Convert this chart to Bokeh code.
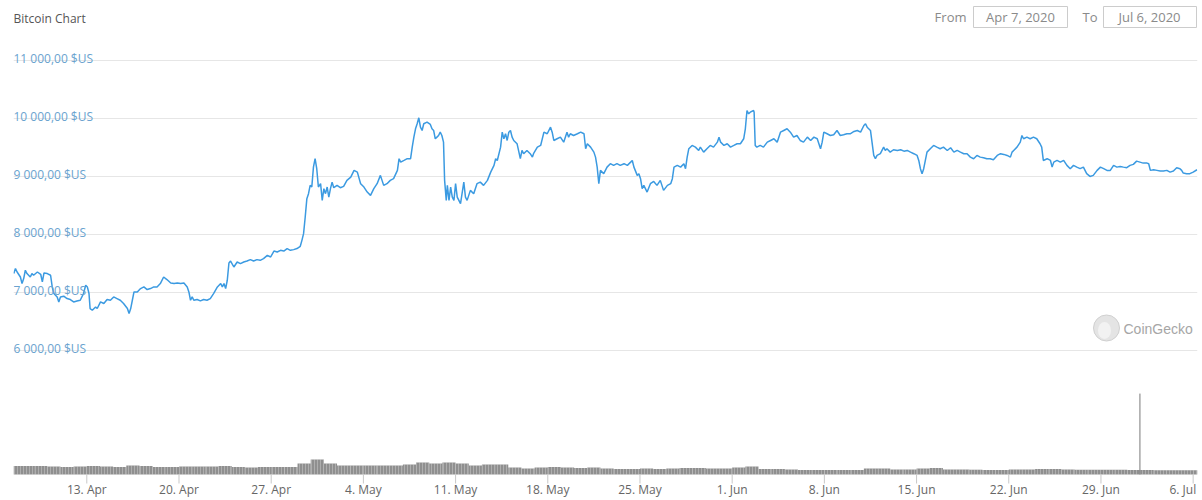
import pandas as pd
from bokeh.plotting import figure
from bokeh.models import Range1d, FixedTicker, Grid
from bokeh.core.properties import value
from bokeh.embed import file_html
from bokeh.resources import INLINE

# ---------------- data ----------------
TITLE = "Bitcoin Chart"
DATE_FROM = "Apr 7, 2020"
DATE_TO = "Jul 6, 2020"
BRAND = "CoinGecko"

PRICE_TIMES = [
    "2020-04-07 11:00", "2020-04-07 14:00", "2020-04-07 17:00", "2020-04-07 23:00",
    "2020-04-08 02:00", "2020-04-08 05:00", "2020-04-08 08:00", "2020-04-08 11:00",
    "2020-04-08 17:00", "2020-04-08 20:00", "2020-04-08 23:00", "2020-04-09 06:00",
    "2020-04-09 12:00", "2020-04-09 15:00", "2020-04-09 18:00", "2020-04-10 00:00",
    "2020-04-10 06:00", "2020-04-10 09:00", "2020-04-10 12:00", "2020-04-10 18:00",
    "2020-04-10 21:00", "2020-04-11 00:00", "2020-04-11 06:00", "2020-04-11 12:00",
    "2020-04-11 18:00", "2020-04-12 00:00", "2020-04-12 06:00", "2020-04-12 12:00",
    "2020-04-12 18:00", "2020-04-12 22:00", "2020-04-13 01:00", "2020-04-13 04:00",
    "2020-04-13 06:00", "2020-04-13 10:00", "2020-04-13 16:00", "2020-04-13 19:00",
    "2020-04-14 01:00", "2020-04-14 07:00", "2020-04-14 13:00", "2020-04-14 19:00",
    "2020-04-15 01:00", "2020-04-15 07:00", "2020-04-15 13:00", "2020-04-15 19:00",
    "2020-04-16 02:00", "2020-04-16 05:00", "2020-04-16 08:00", "2020-04-16 11:00",
    "2020-04-16 14:00", "2020-04-16 20:00", "2020-04-17 02:00", "2020-04-17 08:00",
    "2020-04-17 14:00", "2020-04-17 20:00", "2020-04-18 02:00", "2020-04-18 08:00",
    "2020-04-18 14:00", "2020-04-18 20:00", "2020-04-19 02:00", "2020-04-19 09:00",
    "2020-04-19 15:00", "2020-04-19 21:00", "2020-04-20 03:00", "2020-04-20 09:00",
    "2020-04-20 15:00", "2020-04-20 18:00", "2020-04-20 21:00", "2020-04-21 00:00",
    "2020-04-21 03:00", "2020-04-21 09:00", "2020-04-21 15:00", "2020-04-21 21:00",
    "2020-04-22 03:00", "2020-04-22 09:00", "2020-04-22 15:00", "2020-04-22 22:00",
    "2020-04-23 04:00", "2020-04-23 07:00", "2020-04-23 10:00", "2020-04-23 13:00",
    "2020-04-23 16:00", "2020-04-23 19:00", "2020-04-23 22:00", "2020-04-24 04:00",
    "2020-04-24 10:00", "2020-04-24 16:00", "2020-04-24 22:00", "2020-04-25 04:00",
    "2020-04-25 10:00", "2020-04-25 16:00", "2020-04-25 22:00", "2020-04-26 04:00",
    "2020-04-26 10:00", "2020-04-26 17:00", "2020-04-26 23:00", "2020-04-27 05:00",
    "2020-04-27 11:00", "2020-04-27 17:00", "2020-04-27 23:00", "2020-04-28 05:00",
    "2020-04-28 11:00", "2020-04-28 17:00", "2020-04-28 23:00", "2020-04-29 05:00",
    "2020-04-29 08:00", "2020-04-29 11:00", "2020-04-29 14:00", "2020-04-29 17:00",
    "2020-04-29 20:00", "2020-04-29 23:00", "2020-04-30 02:00", "2020-04-30 05:00",
    "2020-04-30 08:00", "2020-04-30 11:00", "2020-04-30 14:00", "2020-04-30 18:00",
    "2020-04-30 21:00", "2020-05-01 00:00", "2020-05-01 03:00", "2020-05-01 06:00",
    "2020-05-01 09:00", "2020-05-01 12:00", "2020-05-01 15:00", "2020-05-01 18:00",
    "2020-05-02 00:00", "2020-05-02 06:00", "2020-05-02 12:00", "2020-05-02 18:00",
    "2020-05-03 01:00", "2020-05-03 07:00", "2020-05-03 13:00", "2020-05-03 19:00",
    "2020-05-04 01:00", "2020-05-04 07:00", "2020-05-04 13:00", "2020-05-04 19:00",
    "2020-05-05 01:00", "2020-05-05 07:00", "2020-05-05 13:00", "2020-05-05 19:00",
    "2020-05-06 01:00", "2020-05-06 07:00", "2020-05-06 14:00", "2020-05-06 17:00",
    "2020-05-06 20:00", "2020-05-07 02:00", "2020-05-07 08:00", "2020-05-07 14:00",
    "2020-05-07 17:00", "2020-05-07 20:00", "2020-05-07 23:00", "2020-05-08 02:00",
    "2020-05-08 05:00", "2020-05-08 08:00", "2020-05-08 11:00", "2020-05-08 14:00",
    "2020-05-08 20:00", "2020-05-09 02:00", "2020-05-09 05:00", "2020-05-09 08:00",
    "2020-05-09 11:00", "2020-05-09 14:00", "2020-05-09 17:00", "2020-05-09 20:00",
    "2020-05-09 23:00", "2020-05-10 02:00", "2020-05-10 04:00", "2020-05-10 07:00",
    "2020-05-10 09:00", "2020-05-10 12:00", "2020-05-10 15:00", "2020-05-10 18:00",
    "2020-05-10 21:00", "2020-05-11 00:00", "2020-05-11 03:00", "2020-05-11 09:00",
    "2020-05-11 15:00", "2020-05-11 18:00", "2020-05-11 21:00", "2020-05-12 00:00",
    "2020-05-12 03:00", "2020-05-12 09:00", "2020-05-12 15:00", "2020-05-12 21:00",
    "2020-05-13 03:00", "2020-05-13 10:00", "2020-05-13 16:00", "2020-05-13 22:00",
    "2020-05-14 01:00", "2020-05-14 04:00", "2020-05-14 10:00", "2020-05-14 13:00",
    "2020-05-14 16:00", "2020-05-14 19:00", "2020-05-14 22:00", "2020-05-15 01:00",
    "2020-05-15 04:00", "2020-05-15 07:00", "2020-05-15 10:00", "2020-05-15 16:00",
    "2020-05-15 22:00", "2020-05-16 01:00", "2020-05-16 04:00", "2020-05-16 10:00",
    "2020-05-16 16:00", "2020-05-16 20:00", "2020-05-16 22:00", "2020-05-17 05:00",
    "2020-05-17 11:00", "2020-05-17 17:00", "2020-05-17 23:00", "2020-05-18 05:00",
    "2020-05-18 08:00", "2020-05-18 11:00", "2020-05-18 17:00", "2020-05-18 23:00",
    "2020-05-19 05:00", "2020-05-19 11:00", "2020-05-19 14:00", "2020-05-19 17:00",
    "2020-05-19 23:00", "2020-05-20 06:00", "2020-05-20 12:00", "2020-05-20 18:00",
    "2020-05-20 21:00", "2020-05-21 00:00", "2020-05-21 06:00", "2020-05-21 12:00",
    "2020-05-21 15:00", "2020-05-21 18:00", "2020-05-21 21:00", "2020-05-22 00:00",
    "2020-05-22 06:00", "2020-05-22 12:00", "2020-05-22 18:00", "2020-05-23 00:00",
    "2020-05-23 06:00", "2020-05-23 12:00", "2020-05-23 19:00", "2020-05-24 01:00",
    "2020-05-24 07:00", "2020-05-24 10:00", "2020-05-24 13:00", "2020-05-24 19:00",
    "2020-05-24 22:00", "2020-05-25 01:00", "2020-05-25 04:00", "2020-05-25 07:00",
    "2020-05-25 13:00", "2020-05-25 19:00", "2020-05-26 01:00", "2020-05-26 07:00",
    "2020-05-26 13:00", "2020-05-26 19:00", "2020-05-27 02:00", "2020-05-27 08:00",
    "2020-05-27 11:00", "2020-05-27 14:00", "2020-05-27 20:00", "2020-05-28 02:00",
    "2020-05-28 08:00", "2020-05-28 11:00", "2020-05-28 14:00", "2020-05-28 17:00",
    "2020-05-28 23:00", "2020-05-29 05:00", "2020-05-29 11:00", "2020-05-29 14:00",
    "2020-05-29 20:00", "2020-05-30 02:00", "2020-05-30 08:00", "2020-05-30 14:00",
    "2020-05-30 21:00", "2020-05-31 00:00", "2020-05-31 03:00", "2020-05-31 09:00",
    "2020-05-31 15:00", "2020-05-31 21:00", "2020-06-01 03:00", "2020-06-01 09:00",
    "2020-06-01 15:00", "2020-06-01 21:00", "2020-06-02 00:00", "2020-06-02 03:00",
    "2020-06-02 06:00", "2020-06-02 09:00", "2020-06-02 15:00", "2020-06-02 16:00",
    "2020-06-02 18:00", "2020-06-02 21:00", "2020-06-03 03:00", "2020-06-03 09:00",
    "2020-06-03 16:00", "2020-06-03 22:00", "2020-06-04 04:00", "2020-06-04 10:00",
    "2020-06-04 16:00", "2020-06-04 22:00", "2020-06-05 04:00", "2020-06-05 10:00",
    "2020-06-05 16:00", "2020-06-05 22:00", "2020-06-06 04:00", "2020-06-06 10:00",
    "2020-06-06 17:00", "2020-06-06 23:00", "2020-06-07 05:00", "2020-06-07 11:00",
    "2020-06-07 17:00", "2020-06-07 20:00", "2020-06-07 23:00", "2020-06-08 05:00",
    "2020-06-08 11:00", "2020-06-08 17:00", "2020-06-08 23:00", "2020-06-09 05:00",
    "2020-06-09 11:00", "2020-06-09 17:00", "2020-06-09 23:00", "2020-06-10 06:00",
    "2020-06-10 12:00", "2020-06-10 18:00", "2020-06-11 00:00", "2020-06-11 03:00",
    "2020-06-11 06:00", "2020-06-11 12:00", "2020-06-11 18:00", "2020-06-11 21:00",
    "2020-06-12 00:00", "2020-06-12 06:00", "2020-06-12 12:00", "2020-06-12 15:00",
    "2020-06-12 18:00", "2020-06-13 00:00", "2020-06-13 06:00", "2020-06-13 13:00",
    "2020-06-13 19:00", "2020-06-14 01:00", "2020-06-14 07:00", "2020-06-14 13:00",
    "2020-06-14 19:00", "2020-06-15 01:00", "2020-06-15 04:00", "2020-06-15 07:00",
    "2020-06-15 10:00", "2020-06-15 13:00", "2020-06-15 16:00", "2020-06-15 19:00",
    "2020-06-16 01:00", "2020-06-16 07:00", "2020-06-16 13:00", "2020-06-16 19:00",
    "2020-06-17 01:00", "2020-06-17 08:00", "2020-06-17 14:00", "2020-06-17 20:00",
    "2020-06-18 02:00", "2020-06-18 08:00", "2020-06-18 14:00", "2020-06-18 20:00",
    "2020-06-19 02:00", "2020-06-19 08:00", "2020-06-19 14:00", "2020-06-19 20:00",
    "2020-06-20 02:00", "2020-06-20 08:00", "2020-06-20 14:00", "2020-06-20 20:00",
    "2020-06-21 03:00", "2020-06-21 09:00", "2020-06-21 15:00", "2020-06-21 21:00",
    "2020-06-22 03:00", "2020-06-22 06:00", "2020-06-22 09:00", "2020-06-22 15:00",
    "2020-06-22 21:00", "2020-06-23 00:00", "2020-06-23 03:00", "2020-06-23 09:00",
    "2020-06-23 15:00", "2020-06-23 21:00", "2020-06-24 03:00", "2020-06-24 09:00",
    "2020-06-24 12:00", "2020-06-24 15:00", "2020-06-24 22:00", "2020-06-25 04:00",
    "2020-06-25 07:00", "2020-06-25 10:00", "2020-06-25 16:00", "2020-06-25 22:00",
    "2020-06-26 04:00", "2020-06-26 10:00", "2020-06-26 16:00", "2020-06-26 22:00",
    "2020-06-27 04:00", "2020-06-27 10:00", "2020-06-27 16:00", "2020-06-27 22:00",
    "2020-06-28 04:00", "2020-06-28 10:00", "2020-06-28 17:00", "2020-06-28 23:00",
    "2020-06-29 05:00", "2020-06-29 11:00", "2020-06-29 17:00", "2020-06-29 23:00",
    "2020-06-30 05:00", "2020-06-30 11:00", "2020-06-30 17:00", "2020-06-30 23:00",
    "2020-07-01 05:00", "2020-07-01 11:00", "2020-07-01 17:00", "2020-07-01 23:00",
    "2020-07-02 05:00", "2020-07-02 12:00", "2020-07-02 15:00", "2020-07-02 18:00",
    "2020-07-03 00:00", "2020-07-03 06:00", "2020-07-03 12:00", "2020-07-03 18:00",
    "2020-07-04 00:00", "2020-07-04 06:00", "2020-07-04 12:00", "2020-07-04 18:00",
    "2020-07-05 00:00", "2020-07-05 03:00", "2020-07-05 06:00", "2020-07-05 12:00",
    "2020-07-05 18:00", "2020-07-06 00:00", "2020-07-06 07:00",
]

PRICE_USD = [
    7331, 7417, 7358, 7272,
    7159, 7245, 7388, 7331,
    7272, 7331, 7302, 7358,
    7319, 7187, 7341, 7331,
    7302, 7101, 6987, 6929,
    6843, 6929, 6941, 6901,
    6884, 6843, 6860, 6872,
    6987, 7130, 7101, 6987,
    6729, 6700, 6757, 6729,
    6843, 6815, 6884, 6872,
    6929, 6901, 6872, 6815,
    6729, 6643, 6729, 6872,
    7015, 7015, 7073, 7101,
    7056, 7073, 7101, 7101,
    7159, 7272, 7228, 7169,
    7159, 7169, 7159, 7169,
    7101, 7015, 6872, 6929,
    6872, 6884, 6860, 6884,
    6872, 6901, 6987, 7101,
    7159, 7101, 7159, 7073,
    7216, 7513, 7547, 7444,
    7530, 7503, 7530, 7547,
    7571, 7547, 7571, 7559,
    7589, 7645, 7616, 7719,
    7702, 7731, 7719, 7761,
    7731, 7743, 7761, 7800,
    7903, 8018, 8304, 8620,
    8706, 8849, 8820, 9163,
    9308, 9136, 8820, 8878,
    8591, 8792, 8706, 8820,
    8648, 8792, 8905, 8809,
    8849, 8809, 8832, 8935,
    8991, 9107, 9077, 8878,
    8820, 8734, 8677, 8792,
    8878, 9021, 8849, 8878,
    8935, 8964, 9107, 9308,
    9249, 9278, 9308, 9308,
    9507, 9679, 9823, 9909,
    10012, 9851, 9794, 9909,
    9937, 9897, 9823, 9794,
    9651, 9679, 9708, 9765,
    9708, 9593, 8935, 8591,
    8849, 8591, 8820, 8648,
    8591, 8878, 8648, 8534,
    8905, 8648, 8591, 8677,
    8763, 8706, 8878, 8905,
    8849, 8935, 9077, 9193,
    9308, 9278, 9507, 9765,
    9651, 9737, 9622, 9765,
    9794, 9679, 9622, 9566,
    9308, 9450, 9394, 9450,
    9394, 9335, 9394, 9507,
    9536, 9765, 9737, 9851,
    9765, 9622, 9651, 9679,
    9593, 9765, 9679, 9737,
    9708, 9737, 9765, 9737,
    9480, 9566, 9507, 9421,
    9335, 9163, 8878, 9107,
    9050, 9163, 9222, 9193,
    9222, 9193, 9222, 9193,
    9249, 9278, 9163, 9021,
    9050, 8964, 8792, 8849,
    8734, 8878, 8917, 8849,
    8935, 8763, 8849, 8878,
    8964, 9163, 9193, 9163,
    9222, 9136, 9335, 9480,
    9536, 9507, 9450, 9507,
    9421, 9480, 9536, 9507,
    9593, 9679, 9593, 9536,
    9566, 9507, 9536, 9566,
    9566, 9651, 9823, 10138,
    10081, 10109, 10138, 10109,
    9536, 9507, 9536, 9507,
    9593, 9622, 9651, 9593,
    9765, 9794, 9823, 9765,
    9679, 9708, 9622, 9593,
    9679, 9622, 9679, 9651,
    9480, 9593, 9765, 9737,
    9708, 9720, 9794, 9708,
    9720, 9737, 9737, 9777,
    9794, 9765, 9880, 9909,
    9851, 9794, 9364, 9308,
    9364, 9394, 9507, 9450,
    9480, 9421, 9462, 9450,
    9462, 9438, 9450, 9421,
    9394, 9364, 9278, 9136,
    9050, 9136, 9278, 9421,
    9480, 9536, 9507, 9480,
    9507, 9450, 9497, 9421,
    9450, 9421, 9394, 9394,
    9335, 9308, 9364, 9335,
    9325, 9308, 9308, 9290,
    9364, 9394, 9382, 9364,
    9335, 9421, 9450, 9507,
    9593, 9708, 9651, 9679,
    9651, 9679, 9651, 9566,
    9507, 9278, 9308, 9278,
    9163, 9249, 9278, 9249,
    9278, 9193, 9136, 9193,
    9163, 9136, 9163, 9050,
    9003, 9021, 9107, 9163,
    9136, 9107, 9107, 9193,
    9163, 9175, 9163, 9153,
    9193, 9210, 9266, 9249,
    9232, 9232, 9222, 9107,
    9119, 9107, 9095, 9095,
    9107, 9077, 9095, 9153,
    9136, 9107, 9060, 9050,
    9050, 9077, 9118,
]

# daily total volume, billions of USD (Apr 7 .. Jul 6)
VOLUME_START = "2020-04-07"
VOLUME_BUSD = [
    37.4, 37.4, 37.4, 35.2, 33.0, 35.2, 37.4, 35.2, 33.0, 39.6, 37.4, 33.0,
    33.0, 35.2, 35.2, 35.2, 37.4, 33.0, 30.8, 33.0, 33.0, 33.0, 48.4, 66.0,
    48.4, 39.6, 39.6, 39.6, 39.6, 39.6, 44.0, 52.8, 48.4, 52.8, 48.4, 39.6,
    44.0, 44.0, 30.8, 26.4, 30.8, 33.0, 30.8, 28.6, 30.8, 26.4, 24.2, 24.2,
    26.4, 24.2, 26.4, 28.6, 28.6, 26.4, 26.4,
    30.8, 35.2, 24.2, 24.2, 22.0, 19.8, 19.8, 19.8, 19.8, 19.8, 26.4, 26.4,
    22.0, 22.0, 26.4, 28.6, 22.0, 22.0, 21.1, 19.8, 19.8, 22.0, 22.0, 24.2,
    24.2, 22.0, 21.1, 21.1, 21.1, 21.1,
    19.8, 19.8, 18.9, 18.9, 18.9, 18.9,
]
SPIKE_TIME = "2020-07-01 23:00"
SPIKE_BUSD = 356.0

Y_TICKS = [6000, 7000, 8000, 9000, 10000, 11000]
X_TICK_DATES = ["2020-04-13", "2020-04-20", "2020-04-27", "2020-05-04", "2020-05-11",
                "2020-05-18", "2020-05-25", "2020-06-01", "2020-06-08", "2020-06-15",
                "2020-06-22", "2020-06-29", "2020-07-06"]
X_TICK_LABELS = ["13. Apr", "20. Apr", "27. Apr", "4. May", "11. May", "18. May",
                 "25. May", "1. Jun", "8. Jun", "15. Jun", "22. Jun", "29. Jun", "6. Jul"]

# ---------------- layout / style ----------------
W, H = 1200, 500
FRAME_L, FRAME_R = 13, 1197
FONT = value("Open Sans")
LINE_BLUE = "#3b9ae1"
LABEL_BLUE = "#6aa3cf"
VOL_PER_PX = 4.4          # billions per pixel in the volume strip
VOL_BASE_Y = 474          # page y of the volume baseline

x_start = pd.Timestamp("2020-04-07 10:26")
x_end = pd.Timestamp("2020-07-06 07:55")

p = figure(width=W, height=H, x_axis_type="datetime",
           x_range=Range1d(x_start, x_end), y_range=Range1d(3425, 12031),
           x_axis_location=None, y_axis_location=None,
           output_backend="svg", toolbar_location=None,
           min_border_left=FRAME_L, min_border_right=W - FRAME_R,
           min_border_top=0, min_border_bottom=0,
           outline_line_color=None, background_fill_color="white",
           border_fill_color="white")
p.center = []   # drop default grids

p.extra_x_ranges = {"px": Range1d(FRAME_L, FRAME_R)}
p.extra_y_ranges = {
    "py": Range1d(H, 0),
    "vol": Range1d(-(H - VOL_BASE_Y) * VOL_PER_PX, VOL_BASE_Y * VOL_PER_PX),
}

p.add_layout(Grid(dimension=1, ticker=FixedTicker(ticks=Y_TICKS),
                  grid_line_color="#e6e6e6", grid_line_width=1))

# volume strip
vol_days = pd.date_range(VOLUME_START, periods=len(VOLUME_BUSD), freq="D") + pd.Timedelta(hours=12)
p.vbar(x=vol_days, width=86400000, top=VOLUME_BUSD, bottom=0, y_range_name="vol",
       fill_color="#8f8f8f", line_color=None,
       hatch_pattern="vertical_line", hatch_color="white", hatch_alpha=0.35,
       hatch_scale=3, hatch_weight=0.8)
p.segment(x0=[pd.Timestamp(SPIKE_TIME)], y0=[0], x1=[pd.Timestamp(SPIKE_TIME)], y1=[SPIKE_BUSD],
          y_range_name="vol", line_color="#7a7a7a", line_width=1)

# x ticks & labels
tick_dates = pd.to_datetime(X_TICK_DATES)
p.segment(x0=tick_dates, y0=[0] * len(tick_dates), x1=tick_dates,
          y1=[-9 * VOL_PER_PX] * len(tick_dates), y_range_name="vol",
          line_color="#c8c8c8", line_width=1)
p.text(x=tick_dates[:-1], y=[0] * (len(tick_dates) - 1), text=X_TICK_LABELS[:-1],
       y_range_name="vol", y_offset=15, text_align="center", text_baseline="middle",
       text_font=FONT, text_font_size="12px", text_color="#666666")
p.text(x=tick_dates[-1:], y=[0], text=X_TICK_LABELS[-1:],
       y_range_name="vol", y_offset=15, x_offset=3, text_align="right", text_baseline="middle",
       text_font=FONT, text_font_size="12px", text_color="#666666")

# price line
p.line(x=pd.to_datetime(PRICE_TIMES), y=PRICE_USD, line_color=LINE_BLUE, line_width=1.5)

# y labels inside the plot, above gridlines
y_labels = [f"{v:,.2f}".replace(",", " ").replace(".", ",") + " $US" for v in Y_TICKS]
p.text(x=[FRAME_L] * len(Y_TICKS), y=Y_TICKS, text=y_labels, x_range_name="px",
       y_offset=-2, text_align="left", text_baseline="alphabetic",
       text_font=FONT, text_font_size="12px", text_color=LABEL_BLUE)

# title
p.text(x=[13], y=[17.5], text=[TITLE], x_range_name="px", y_range_name="py",
       text_align="left", text_baseline="middle", text_font=FONT,
       text_font_size="12px", text_color="#555555")

# date range boxes
p.quad(left=[973, 1103], right=[1067, 1196], top=[6, 6], bottom=[27, 27],
       x_range_name="px", y_range_name="py", fill_color="white",
       line_color="#cccccc", line_width=1)
p.text(x=[966, 1097], y=[16, 16], text=["From", "To"], x_range_name="px", y_range_name="py",
       text_align="right", text_baseline="middle", text_font=FONT,
       text_font_size="13px", text_color="#8a8a8a")
p.text(x=[1020, 1149], y=[16, 16], text=[DATE_FROM, DATE_TO], x_range_name="px",
       y_range_name="py", text_align="center", text_baseline="middle", text_font=FONT,
       text_font_size="13px", text_color="#8a8a8a")

# CoinGecko watermark
p.circle(x=[1106], y=[327.5], radius=13, x_range_name="px", y_range_name="py",
         fill_color="#e4e4e4", line_color="#d0d0d0", line_width=1)
p.ellipse(x=[1104], y=[330], width=13, height=17, x_range_name="px", y_range_name="py",
          fill_color="#f2f2f2", line_color=None)
p.text(x=[1123], y=[328], text=[BRAND], x_range_name="px", y_range_name="py",
       text_align="left", text_baseline="middle", text_font=value("Liberation Sans"),
       text_font_size="14px", text_color="#a6a6a6")

open("out.html", "w").write(file_html(p, INLINE))
